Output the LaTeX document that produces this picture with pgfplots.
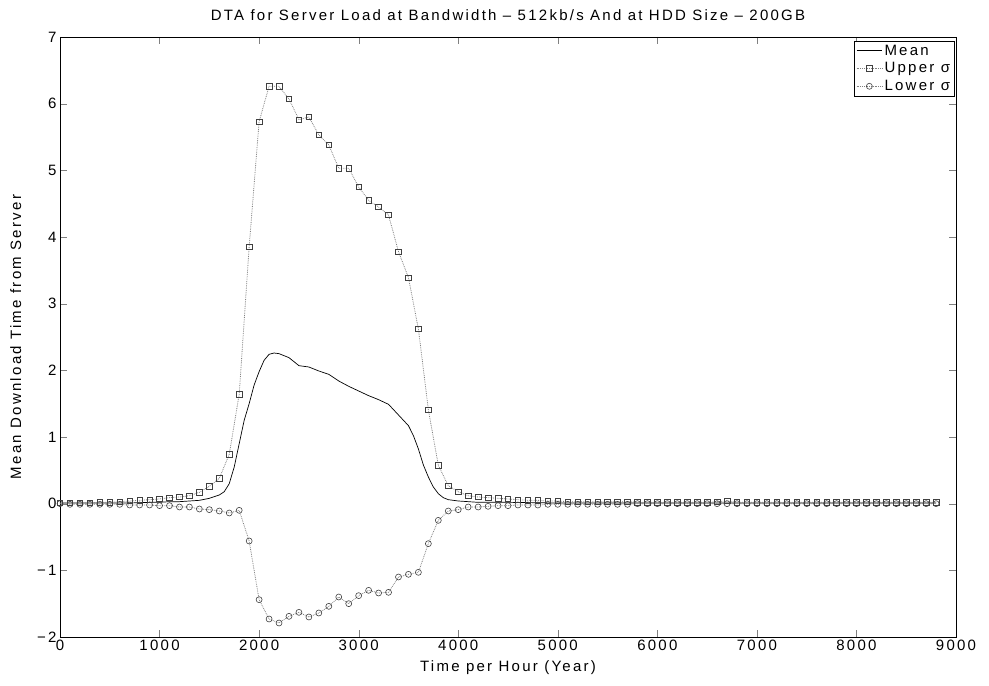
\documentclass[border=0pt]{standalone}
\usepackage{fontspec}
\setmainfont{Liberation Sans}[LetterSpace=15]
\usepackage{pgfplots}
\usepackage{pgfplotstable}
\pgfplotsset{compat=1.18}

\pgfplotstableread{
x mean
0 0.01
100 0.01
200 0.01
300 0.01
400 0.01
500 0.01
600 0.01
700 0.01
800 0.015
900 0.02
1000 0.02
1100 0.03
1200 0.03
1300 0.04
1400 0.05
1500 0.08
1600 0.13
1650 0.18
1700 0.30
1750 0.55
1800 0.90
1850 1.25
1900 1.50
1950 1.78
2000 1.98
2050 2.15
2100 2.24
2150 2.26
2200 2.25
2300 2.19
2400 2.07
2500 2.05
2600 1.99
2700 1.94
2800 1.84
2900 1.76
3000 1.69
3100 1.62
3200 1.56
3300 1.49
3400 1.33
3500 1.17
3550 1.02
3600 0.82
3650 0.58
3700 0.40
3750 0.25
3800 0.15
3850 0.09
3900 0.06
4000 0.04
4100 0.03
4200 0.02
4500 0.02
5000 0.01
6000 0.01
7000 0.01
8000 0.01
8800 0.01
}\meantable

\pgfplotstableread{
x upper lower
0 0.01 0.00
100 0.01 -0.01
200 0.01 -0.01
300 0.01 -0.01
400 0.02 -0.01
500 0.02 -0.01
600 0.03 -0.01
700 0.04 -0.02
800 0.05 -0.02
900 0.06 -0.02
1000 0.07 -0.03
1100 0.09 -0.03
1200 0.10 -0.05
1300 0.12 -0.05
1400 0.17 -0.08
1500 0.26 -0.09
1600 0.38 -0.11
1700 0.74 -0.14
1800 1.64 -0.10
1900 3.85 -0.56
2000 5.73 -1.44
2100 6.26 -1.73
2200 6.26 -1.79
2300 6.07 -1.69
2400 5.76 -1.63
2500 5.80 -1.70
2600 5.53 -1.64
2700 5.38 -1.54
2800 5.03 -1.40
2900 5.03 -1.50
3000 4.75 -1.38
3100 4.55 -1.30
3200 4.45 -1.34
3300 4.33 -1.33
3400 3.78 -1.10
3500 3.39 -1.06
3600 2.62 -1.03
3700 1.41 -0.60
3800 0.575 -0.25
3900 0.27 -0.11
4000 0.18 -0.09
4100 0.12 -0.05
4200 0.10 -0.05
4300 0.09 -0.04
4400 0.08 -0.03
4500 0.07 -0.03
4600 0.06 -0.02
4700 0.05 -0.02
4800 0.05 -0.02
4900 0.04 -0.01
5000 0.04 -0.01
5100 0.03 -0.01
5200 0.03 -0.01
5300 0.03 -0.01
5400 0.03 -0.01
5500 0.03 -0.01
5600 0.03 -0.01
5700 0.03 -0.01
5800 0.02 0.00
5900 0.02 0.00
6000 0.02 0.00
6100 0.02 0.00
6200 0.02 0.00
6300 0.02 0.00
6400 0.02 0.00
6500 0.02 0.00
6600 0.03 0.00
6700 0.04 0.00
6800 0.02 0.00
6900 0.02 0.00
7000 0.02 0.00
7100 0.02 0.00
7200 0.02 0.00
7300 0.02 0.00
7400 0.02 0.00
7500 0.02 0.00
7600 0.02 0.00
7700 0.02 0.00
7800 0.02 0.00
7900 0.02 0.00
8000 0.02 0.00
8100 0.02 0.00
8200 0.02 0.00
8300 0.02 0.00
8400 0.02 0.00
8500 0.02 0.00
8600 0.02 0.00
8700 0.02 0.00
8800 0.02 0.00
}\sigtable

\begin{document}
\begin{tikzpicture}
\begin{axis}[
  name=ax,
  scale only axis,
  width=896bp, height=600bp,
  xmin=0, xmax=9000, ymin=-2, ymax=7,
  xtick={0,1000,...,9000},
  ytick={-2,-1,...,7},
  yticklabels={−2,−1,0,1,2,3,4,5,6,7},
  tick align=inside,
  major tick length=7bp,
  axis line style={line width=0.9pt},
  /pgf/number format/assume math mode=true,
  /pgf/number format/set thousands separator={},
  ticklabel style={font=\fontsize{15bp}{18bp}\selectfont},
  label style={font=\fontsize{15bp}{18bp}\selectfont},
  title style={font=\fontsize{15bp}{18bp}\selectfont, yshift=7bp},
  title={DTA for Server Load at Bandwidth -- 512kb/s And at HDD Size -- 200GB},
  xlabel={Time per Hour (Year)},
  ylabel={Mean Download Time from Server},
  xlabel style={yshift=-3bp},
  ylabel style={yshift=9bp},
  legend style={at={(0.998,0.994)}, anchor=north east, draw=black,
    font=\fontsize{15bp}{17bp}\selectfont, inner sep=2pt, row sep=2pt,
    legend cell align=left},
  legend image code/.code={%
    \draw[mark repeat=2,mark phase=2,#1] plot coordinates {(0cm,0cm) (0.45cm,0cm) (0.9cm,0cm)};},
]
\addplot[black, line width=0.7pt, mark=none] table[x=x, y=mean] {\meantable};
\addlegendentry{Mean}
\addplot[gray, densely dotted, line width=0.8pt, mark=square, mark size=2.8pt,
  mark options={solid, draw=black!75, line width=0.6pt}] table[x=x, y=upper] {\sigtable};
\addlegendentry{Upper σ}
\addplot[gray, densely dotted, line width=0.8pt, mark=o, mark size=3pt,
  mark options={solid, draw=black!75, line width=0.6pt}] table[x=x, y=lower] {\sigtable};
\addlegendentry{Lower σ}
\end{axis}
\path ([shift={(-60bp,-49bp)}]ax.south west) rectangle ([shift={(33bp,37bp)}]ax.north east);
\end{tikzpicture}
\end{document}
